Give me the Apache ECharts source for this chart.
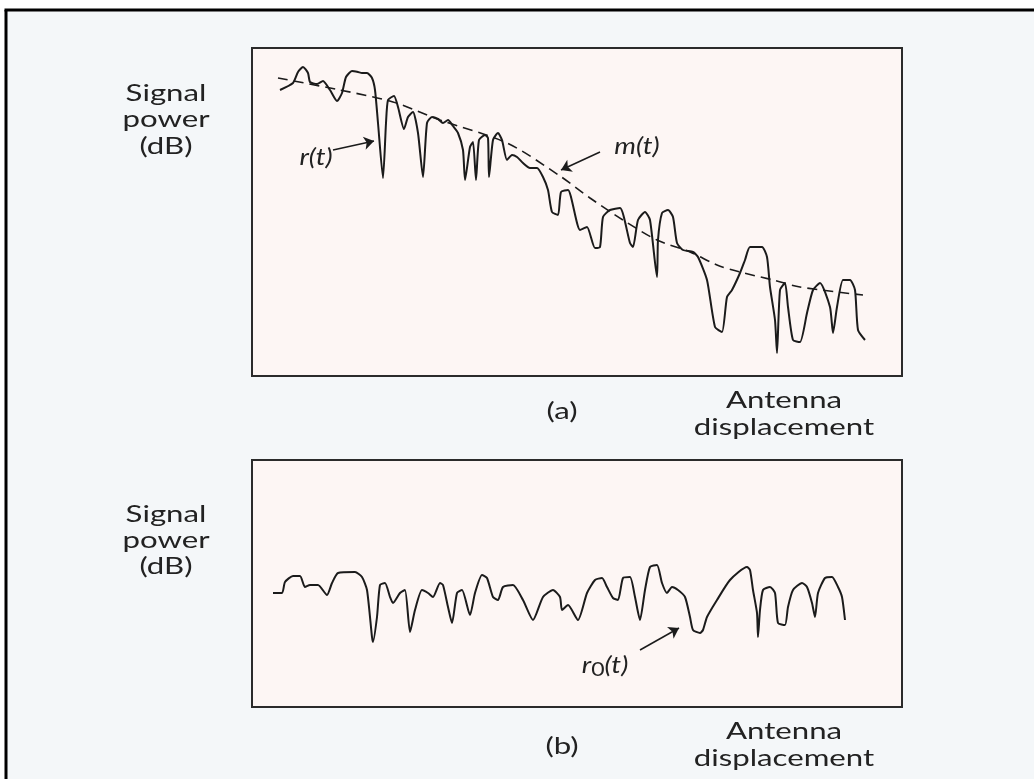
<!DOCTYPE html>
<html>
<head>
<meta charset="utf-8">
<script src="https://cdn.jsdelivr.net/npm/echarts@6/dist/echarts.min.js"></script>
<style>
  html, body { margin: 0; padding: 0; background: #ffffff; overflow: hidden; }
  #chart { width: 1034px; height: 779px; }
</style>
</head>
<body>
<div id="chart"></div>
<script>
// Antenna displacement (arbitrary units) and signal power (dB, arbitrary offset)
// (a) received signal r(t)
const rtX = [2.8,4.1,4.6,5.1,5.6,5.8,6.5,7.1,7.8,8.5,
  9.0,9.4,10.0,10.6,11.0,11.5,12.0,12.3,12.6,13.1,
  13.4,13.6,14.2,14.6,15.2,15.6,16.1,16.6,17.1,17.5,
  18.0,18.6,19.1,19.6,20.1,20.6,21.1,21.3,21.8,22.1,
  22.4,22.7,23.3,23.6,23.7,24.1,24.6,25.0,25.5,26.0,
  26.5,27.1,27.8,28.5,29.1,29.6,30.0,30.6,30.9,31.6,
  32.8,33.5,34.3,34.8,35.1,35.8,36.8,37.8,38.1,38.6,
  39.3,39.8,40.5,40.6,41.0,41.6,42.1,42.5,43.1,44.1,
  44.6,45.5,46.3,47.0,47.5,48.0,48.8,49.3,49.8,51.0,
  51.5,51.8,52.3,52.5,52.8,53.3,53.6,54.1,54.8,55.5,
  56.1,56.8,57.8,58.1,58.5,59.1,59.8,60.3,60.6,61.3];
const rtY = [28.6,29.3,30.4,30.9,30.3,29.4,29.2,29.5,28.6,27.5,
  28.3,29.9,30.5,30.4,30.3,30.3,29.8,28.6,25.3,19.8,
  25.3,27.6,28.0,26.9,24.7,25.9,26.4,24.3,19.9,25.3,
  25.9,25.7,25.3,25.6,25.0,24.3,22.6,19.6,22.9,23.4,
  19.6,23.6,24.1,23.8,19.9,23.6,24.3,23.6,21.6,22.1,
  21.9,21.3,20.8,20.8,19.9,18.6,16.4,16.1,18.4,18.6,
  14.6,14.9,12.8,12.9,15.9,16.6,16.8,13.3,12.9,15.6,
  16.4,15.6,9.9,13.6,16.3,16.6,15.9,13.3,12.6,12.4,
  11.9,9.6,4.9,4.4,7.9,8.6,10.3,11.6,12.9,12.9,
  11.9,8.9,5.6,2.3,8.6,9.3,6.9,3.6,3.4,6.3,
  8.6,9.3,6.9,4.3,6.9,9.6,9.6,8.6,4.6,3.6];

// (a) local mean m(t)
const mtX = [2.6,8.8,14.1,18.8,25.5,30.8,33.8,37.1,40.5,43.8,46.5,48.8,52.1,54.8,61.1];
const mtY = [29.8,28.6,27.4,25.6,23.3,20.0,17.8,15.6,13.6,12.4,11.1,10.4,9.6,8.9,8.1];

// (b) fading component r0(t)
const r0X = [2.1,3.0,3.3,4.1,4.8,5.3,5.8,6.6,7.5,8.0,
  8.6,10.3,11.0,11.5,12.0,12.1,12.5,12.8,13.3,13.8,
  14.1,14.8,15.3,15.8,16.3,17.0,17.6,18.1,18.8,19.1,
  19.6,20.0,20.5,21.0,21.8,22.3,23.0,23.5,24.1,24.6,
  25.1,26.1,27.1,28.1,29.1,30.1,30.8,31.0,31.6,32.6,
  33.5,34.3,35.0,35.5,36.1,36.6,37.1,37.8,38.3,38.8,
  39.3,39.8,40.5,41.0,41.5,42.0,42.6,43.3,43.8,44.1,
  44.8,45.1,45.5,46.5,47.8,49.5,49.8,50.1,50.5,50.6,
  50.8,51.1,51.8,52.3,52.6,53.3,53.6,54.1,55.0,55.5,
  56.0,56.3,56.6,57.3,58.0,58.6,59.0,59.3];
const r0Y = [11.4,11.4,12.5,13.1,13.1,12.0,12.2,12.2,11.2,12.4,
  13.4,13.5,13.0,11.7,7.0,6.5,9.0,12.2,12.4,11.0,
  10.4,11.4,11.7,7.5,9.7,11.7,11.4,11.0,12.4,12.2,
  10.0,8.4,11.4,11.7,9.2,11.4,13.2,12.9,11.0,10.7,
  12.0,12.2,10.7,8.7,11.0,11.7,11.0,9.7,10.2,8.7,
  11.4,12.7,12.9,12.0,10.9,10.7,12.9,13.0,11.0,8.7,
  11.7,14.0,14.2,12.4,11.4,12.0,11.7,11.0,9.0,7.7,
  7.4,7.7,9.0,10.7,12.7,14.0,13.7,11.7,9.4,7.0,
  9.7,11.7,12.0,11.4,8.4,8.2,10.0,11.7,12.4,12.0,
  10.4,9.0,11.4,12.9,13.0,12.0,11.0,8.7];

// annotation arrows [from, to] in data units
const arrowR  = [[8.1, 22.6], [12.2, 23.5]];
const arrowM  = [[34.8, 22.4], [30.9, 20.6]];
const arrowR0 = [[38.8, 5.7], [42.7, 7.9]];

const yLabel = ['Signal', 'power', '(dB)'];
const xLabel = ['Antenna', 'displacement'];
const panelTags = ['(a)', '(b)'];

const zip = (xs, ys) => xs.map((x, i) => [x, ys[i]]);

const FONT = 'Lato, "Open Sans", sans-serif';
const SX = 1.3;
const ink = '#1b1b1b';

function txt(text, x, y, size, opts) {
  opts = opts || {};
  return {
    type: 'text', x: x, y: y, scaleX: opts.sx || SX, z: 50,
    style: {
      text: text, fill: '#222222',
      font: (opts.italic ? 'italic ' : '') + size + 'px ' + FONT,
      align: 'center', verticalAlign: 'middle',
      rich: opts.rich
    }
  };
}

function arrowLine(a) {
  return {
    silent: true, symbol: ['none', 'arrow'], symbolSize: 10,
    lineStyle: { color: ink, width: 1.5, type: 'solid' },
    itemStyle: { color: ink },
    label: { show: false },
    emphasis: { disabled: true },
    data: [[{ coord: a[0] }, { coord: a[1] }]]
  };
}

const chart = echarts.init(document.getElementById('chart'));
const gridStyle = { show: true, backgroundColor: '#fdf6f4', borderColor: '#2b2b2b', borderWidth: 2 };
const option = {
  animation: false,
  backgroundColor: '#ffffff',
  grid: [
    Object.assign({ left: 252, top: 48, width: 650, height: 328 }, gridStyle),
    Object.assign({ left: 252, top: 460, width: 650, height: 247 }, gridStyle)
  ],
  xAxis: [
    { type: 'value', gridIndex: 0, min: 0, max: 65, show: false },
    { type: 'value', gridIndex: 1, min: 0, max: 65, show: false }
  ],
  yAxis: [
    { type: 'value', gridIndex: 0, min: 0, max: 32.8, show: false },
    { type: 'value', gridIndex: 1, min: 0, max: 24.7, show: false }
  ],
  series: [
    { name: 'r(t)', type: 'line', xAxisIndex: 0, yAxisIndex: 0, data: zip(rtX, rtY),
      showSymbol: false, smooth: 0.2, lineStyle: { color: ink, width: 2 },
      markLine: arrowLine(arrowR) },
    { name: 'm(t)', type: 'line', xAxisIndex: 0, yAxisIndex: 0, data: zip(mtX, mtY),
      showSymbol: false, smooth: 0.3, lineStyle: { color: ink, width: 1.6, type: [10, 6] },
      markLine: arrowLine(arrowM) },
    { name: 'r0(t)', type: 'line', xAxisIndex: 1, yAxisIndex: 1, data: zip(r0X, r0Y),
      showSymbol: false, smooth: 0.2, lineStyle: { color: ink, width: 2 },
      markLine: arrowLine(arrowR0) }
  ],
  graphic: [
    { type: 'rect', z: -100, shape: { x: 6, y: 10, width: 1100, height: 900 },
      style: { fill: '#f4f7f9' } },
    { type: 'line', z: -90, shape: { x1: 4.5, y1: 10, x2: 1100, y2: 10 },
      style: { stroke: '#000000', lineWidth: 3 } },
    { type: 'line', z: -90, shape: { x1: 6, y1: 10, x2: 6, y2: 900 },
      style: { stroke: '#000000', lineWidth: 3 } },
    txt(yLabel[0], 166, 93, 24), txt(yLabel[1], 166, 119, 24), txt(yLabel[2], 166, 146, 24),
    txt(yLabel[0], 166, 514, 24), txt(yLabel[1], 166, 540, 24), txt(yLabel[2], 166, 566, 24),
    txt(panelTags[0], 562, 411, 24), txt(panelTags[1], 562, 746, 24),
    txt(xLabel[0], 784, 400, 24), txt(xLabel[1], 784, 427, 24),
    txt(xLabel[0], 784, 731, 24), txt(xLabel[1], 784, 758, 24),
    txt('r(t)', 316, 157, 24, { italic: true, sx: 1.15 }),
    txt('m(t)', 637, 146, 24, { italic: true, sx: 1.15 }),
    txt('{a|r}{s|0}{a|(t)}', 605, 665, 24, { sx: 1.15, rich: {
      a: { font: 'italic 24px ' + FONT, fill: '#222222' },
      s: { font: '20px ' + FONT, fill: '#222222', padding: [10, 0, 0, 0] }
    } })
  ]
};
chart.setOption(option);
</script>
</body>
</html>
